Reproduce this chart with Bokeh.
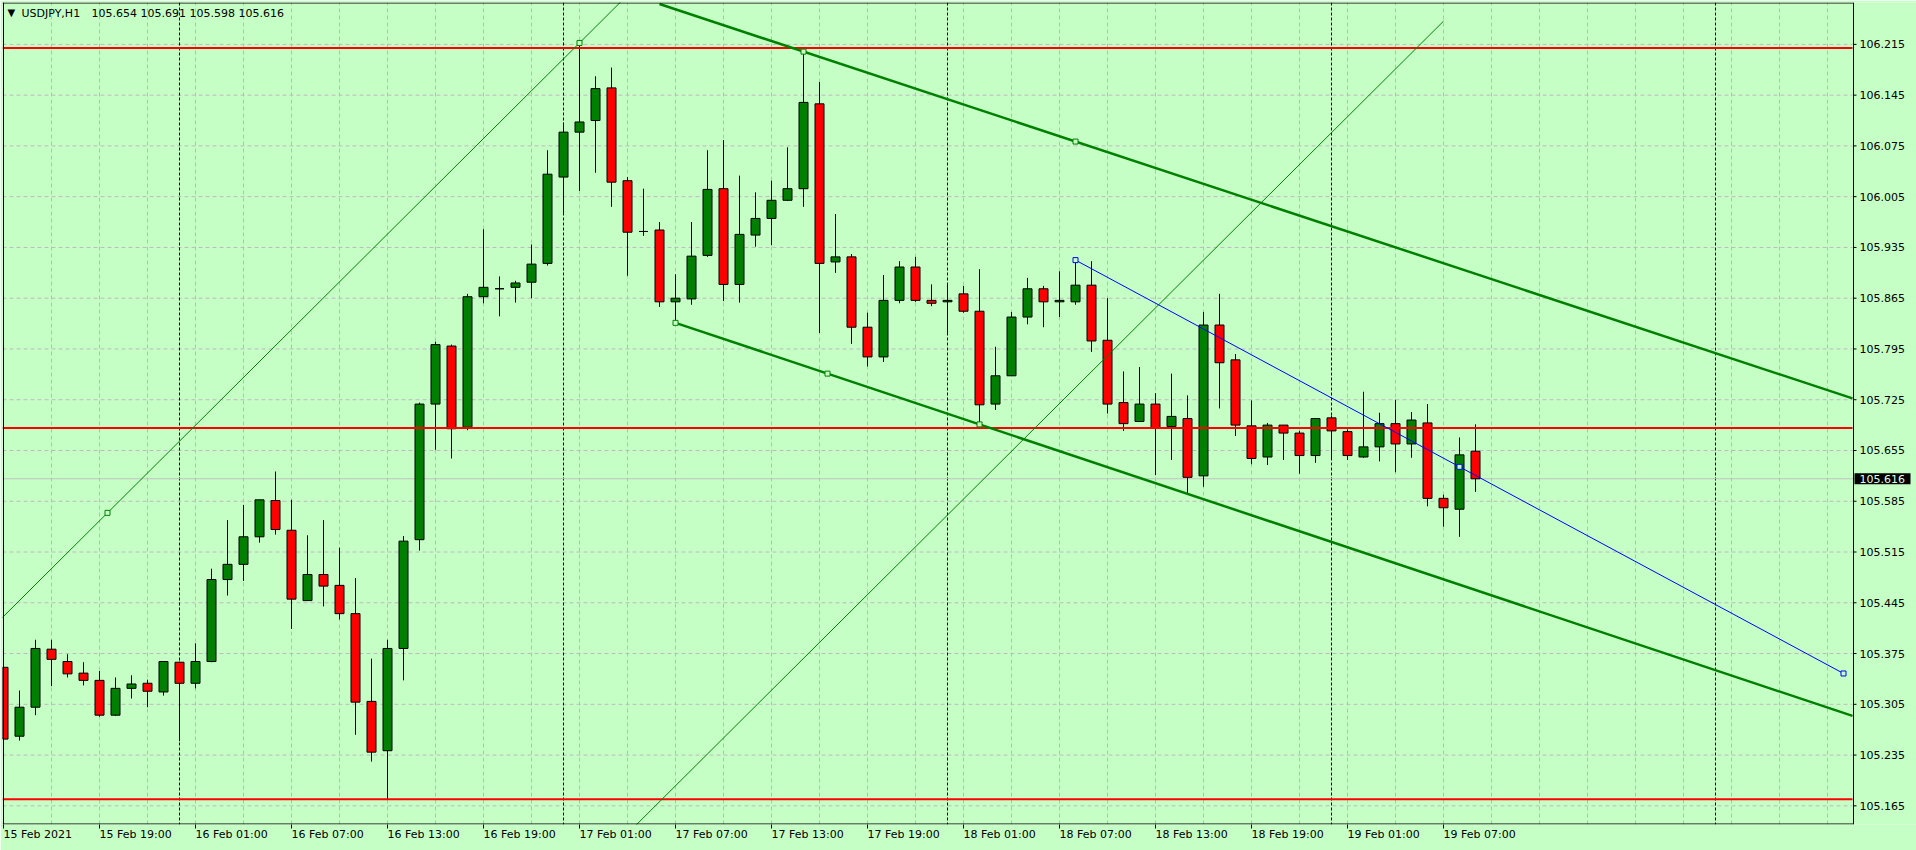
from bokeh.plotting import figure
from bokeh.models import Range1d, FixedTicker, Label, ColumnDataSource
from bokeh.core.properties import value
from bokeh.embed import file_html
from bokeh.resources import INLINE

# ---------------- data ----------------
symbol = "USDJPY,H1"
last_ohlc = "105.654 105.691 105.598 105.616"

# hourly bars, bar 0 = 15 Feb 2021 13:00
opens = [105.356, 105.261, 105.301, 105.381, 105.364, 105.348, 105.338, 105.290, 105.327, 105.334,
         105.322, 105.363, 105.334, 105.364, 105.477, 105.498, 105.536, 105.586, 105.545, 105.448,
         105.484, 105.469, 105.430, 105.309, 105.241, 105.382, 105.532, 105.719, 105.799, 105.687,
         105.867, 105.878, 105.880, 105.887, 105.913, 106.032, 106.094, 106.110, 106.155, 106.027,
         105.957, 105.959, 105.860, 105.864, 105.924, 106.016, 105.884, 105.952, 105.975, 106.000,
         106.016, 106.133, 105.915, 105.922, 105.825, 105.784, 105.862, 105.908, 105.862, 105.860,
         105.871, 105.847, 105.719, 105.758, 105.839, 105.878, 105.860, 105.860, 105.883, 105.807,
         105.721, 105.695, 105.719, 105.688, 105.699, 105.620, 105.828, 105.780, 105.689, 105.646,
         105.690, 105.679, 105.648, 105.700, 105.681, 105.646, 105.660, 105.692, 105.664, 105.693,
         105.589, 105.574, 105.654]
highs = [105.361, 105.324, 105.394, 105.394, 105.374, 105.363, 105.351, 105.342, 105.345, 105.339,
         105.364, 105.364, 105.389, 105.492, 105.559, 105.580, 105.587, 105.626, 105.587, 105.538,
         105.559, 105.521, 105.479, 105.368, 105.394, 105.537, 105.721, 105.805, 105.801, 105.871,
         105.960, 105.895, 105.889, 105.939, 106.069, 106.107, 106.217, 106.171, 106.183, 106.032,
         106.016, 105.970, 105.898, 105.970, 106.069, 106.083, 106.034, 106.011, 106.027, 106.073,
         106.207, 106.163, 105.981, 105.926, 105.845, 105.897, 105.916, 105.922, 105.884, 105.884,
         105.882, 105.905, 105.798, 105.846, 105.893, 105.882, 105.902, 105.917, 105.916, 105.865,
         105.764, 105.770, 105.734, 105.761, 105.731, 105.846, 105.871, 105.788, 105.724, 105.693,
         105.690, 105.682, 105.699, 105.703, 105.684, 105.736, 105.707, 105.725, 105.708, 105.719,
         105.594, 105.673, 105.691]
lows = [105.255, 105.255, 105.290, 105.330, 105.342, 105.331, 105.288, 105.289, 105.313, 105.301,
        105.317, 105.254, 105.327, 105.363, 105.455, 105.475, 105.528, 105.539, 105.409, 105.448,
        105.440, 105.422, 105.263, 105.226, 105.174, 105.338, 105.517, 105.656, 105.644, 105.683,
        105.858, 105.840, 105.859, 105.865, 105.910, 105.981, 106.013, 106.038, 105.991, 105.896,
        105.951, 105.853, 105.831, 105.856, 105.922, 105.861, 105.859, 105.936, 105.938, 105.999,
        105.991, 105.817, 105.900, 105.802, 105.771, 105.777, 105.858, 105.860, 105.854, 105.816,
        105.845, 105.693, 105.711, 105.758, 105.829, 105.825, 105.839, 105.856, 105.791, 105.706,
        105.682, 105.695, 105.621, 105.642, 105.594, 105.605, 105.713, 105.675, 105.636, 105.635,
        105.642, 105.623, 105.638, 105.642, 105.642, 105.645, 105.640, 105.625, 105.645, 105.578,
        105.550, 105.536, 105.598]
closes = [105.257, 105.301, 105.382, 105.367, 105.347, 105.338, 105.290, 105.327, 105.333, 105.323,
          105.364, 105.334, 105.364, 105.477, 105.498, 105.536, 105.587, 105.546, 105.450, 105.484,
          105.468, 105.430, 105.308, 105.239, 105.382, 105.530, 105.719, 105.801, 105.685, 105.867,
          105.880, 105.878, 105.886, 105.912, 106.036, 106.094, 106.108, 106.154, 106.025, 105.956,
          105.957, 105.860, 105.865, 105.923, 106.015, 105.884, 105.953, 105.975, 106.000, 106.016,
          106.135, 105.913, 105.922, 105.825, 105.784, 105.862, 105.908, 105.862, 105.858, 105.862,
          105.847, 105.718, 105.758, 105.839, 105.878, 105.860, 105.862, 105.883, 105.806, 105.719,
          105.692, 105.719, 105.686, 105.702, 105.618, 105.828, 105.776, 105.690, 105.644, 105.690,
          105.679, 105.648, 105.699, 105.682, 105.648, 105.660, 105.692, 105.664, 105.697, 105.589,
          105.576, 105.649, 105.616]

x_tick_bars = [0, 6, 12, 18, 24, 30, 36, 42, 48, 54, 60, 66, 72, 78, 84, 90]
x_tick_labels = ["15 Feb 2021", "15 Feb 19:00", "16 Feb 01:00", "16 Feb 07:00", "16 Feb 13:00",
                 "16 Feb 19:00", "17 Feb 01:00", "17 Feb 07:00", "17 Feb 13:00", "17 Feb 19:00",
                 "18 Feb 01:00", "18 Feb 07:00", "18 Feb 13:00", "18 Feb 19:00", "19 Feb 01:00",
                 "19 Feb 07:00"]
y_ticks = [105.165, 105.235, 105.305, 105.375, 105.445, 105.515, 105.585, 105.655,
           105.725, 105.795, 105.865, 105.935, 106.005, 106.075, 106.145, 106.215]
y_tick_labels = ["105.165", "105.235", "105.305", "105.375", "105.445", "105.515", "105.585",
                 "105.655", "105.725", "105.795", "105.865", "105.935", "106.005", "106.075",
                 "106.145", "106.215"]

red_levels = [106.210, 105.686, 105.174]
day_start_bars = [11, 35, 59, 83, 107]
bid_price = 105.616
bid_label = "105.616"

# drawn objects: anchor (bar, price)
chan_upper_t, chan_upper_p = [50, 67], [106.205, 106.081]
chan_lower_t, chan_lower_p = [42, 61], [105.831, 105.691]
thin_t, thin_p = [-23, 36], [104.921, 106.217]
thin_par_t, thin_par_p = 60, 105.588
blue_t, blue_p = [67, 115], [105.9175, 105.3475]

# ---------------- layout ----------------
BG = "#c6ffc6"
GRID = "#c0b8c0"
GREEN = "#008000"
FONT = "DejaVu Sans"
W, H = 1916, 850
FL, FT, FR, FB = 2, 2, 0, 24           # frame margins in px (frame also holds the price scale)
FW, FH = W - FL - FR, H - FT - FB
BAR_PX = 16.0
PPX = 0.0013756
X0 = (FL - 3) / BAR_PX                 # bar 0 centre sits at page x = 3
X1 = X0 + FW / BAR_PX
Y1 = 106.2755 - FT * PPX
Y0 = Y1 - FH * PPX

def bx(px):   # page x -> bar units
    return X0 + (px - FL) / BAR_PX
def py(pyy):  # page y -> price units
    return Y1 - (pyy - FT) * PPX
def dy(px):   # pixel height -> price
    return px * PPX

XE = bx(1852)                          # right edge of the chart area (price scale beyond)

p = figure(width=W, height=H, x_range=Range1d(X0, X1), y_range=Range1d(Y0, Y1),
           y_axis_location=None, output_backend="svg", toolbar_location=None,
           tools="", title=None, min_border_left=FL, min_border_top=FT,
           min_border_right=FR, min_border_bottom=FB)
p.background_fill_color = BG
p.border_fill_color = BG
p.outline_line_color = None
p.ygrid.visible = False

# x axis: labels start at their tick (tiny negative angle => left aligned)
xa = p.xaxis[0]
xa.ticker = FixedTicker(ticks=x_tick_bars)
xa.major_label_overrides = {b: s for b, s in zip(x_tick_bars, x_tick_labels)}
xa.major_label_orientation = -0.0001
xa.major_tick_out = 4
xa.major_tick_in = 0
xa.minor_tick_out = 0
xa.minor_tick_in = 0
xa.major_tick_line_color = "black"
xa.major_label_standoff = 6
xa.major_label_text_font = FONT
xa.major_label_text_font_size = "11px"
xa.major_label_text_color = "black"
xa.axis_line_color = None

# vertical grid (every 3 bars)
p.xgrid.ticker = FixedTicker(ticks=list(range(0, 115, 3)))
p.xgrid.grid_line_color = GRID
p.xgrid.grid_line_dash = "4 3"
p.xgrid.grid_line_width = 1

ny = len(y_ticks)
# horizontal grid (only across the chart area)
p.segment(x0=[X0] * ny, y0=y_ticks, x1=[XE] * ny, y1=y_ticks,
          line_color=GRID, line_dash="4 3", line_width=1)

# day separators, bid line
p.vspan(x=day_start_bars, line_color="black", line_dash="3 2", line_width=1)
p.segment(x0=[X0], y0=[bid_price], x1=[bx(1854)], y1=[bid_price], line_color="#c0c0c0", line_width=1)

# candles
n = len(opens)
src = ColumnDataSource(dict(
    x=list(range(n)), o=opens, h=highs, l=lows, c=closes,
    top=[max(a, b) for a, b in zip(opens, closes)],
    bot=[min(a, b) for a, b in zip(opens, closes)],
    col=[GREEN if c >= o else "#ff0000" for o, c in zip(opens, closes)]))
p.segment(x0="x", y0="l", x1="x", y1="h", source=src, line_color="black", line_width=1)
p.vbar(x="x", width=0.5625, top="top", bottom="bot", fill_color="col",
       line_color="black", line_width=1, source=src)

# horizontal levels
nr = len(red_levels)
p.segment(x0=[X0] * nr, y0=red_levels, x1=[XE] * nr, y1=red_levels, line_color="#ff0000", line_width=2)

def line_pts(t_pair, p_pair, t_from, t_to):
    s = (p_pair[1] - p_pair[0]) / (t_pair[1] - t_pair[0])
    return [t_from, t_to], [p_pair[0] + s * (t_from - t_pair[0]), p_pair[0] + s * (t_to - t_pair[0])]

# equidistant channel (thick)
ux, uy = line_pts(chan_upper_t, chan_upper_p, 41, XE)
lx, ly = line_pts(chan_lower_t, chan_lower_p, 42, XE)
p.line(ux, uy, line_color=GREEN, line_width=2.5)
p.line(lx, ly, line_color=GREEN, line_width=2.5)

# thin channel
tx, ty = line_pts(thin_t, thin_p, X0 - 1, 45)
p.line(tx, ty, line_color=GREEN, line_width=1)
slope_thin = (thin_p[1] - thin_p[0]) / (thin_t[1] - thin_t[0])
px_, py_ = line_pts([thin_par_t, thin_par_t + 1], [thin_par_p, thin_par_p + slope_thin], 30, 90)
p.line(px_, py_, line_color=GREEN, line_width=1)

# blue trend line
p.line(blue_t, blue_p, line_color="#0000ff", line_width=1)

# anchor squares
g_sq_x = chan_upper_t + chan_lower_t + [sum(chan_lower_t) / 2, thin_t[1], (thin_t[0] + thin_t[1]) / 2]
g_sq_y = chan_upper_p + chan_lower_p + [sum(chan_lower_p) / 2, thin_p[1], (thin_p[0] + thin_p[1]) / 2]
p.scatter(g_sq_x, g_sq_y, marker="square", size=5, fill_color=BG, line_color=GREEN, line_width=1)
b_sq_x = [blue_t[0], sum(blue_t) / 2, blue_t[1]]
b_sq_y = [blue_p[0], sum(blue_p) / 2, blue_p[1]]
p.scatter(b_sq_x, b_sq_y, marker="square", size=5, fill_color=BG, line_color="#0000ff", line_width=1)

# chart border (left, top, right, bottom)
p.vspan(x=[bx(2.5), bx(1852.5)], line_color="black", line_width=1)
p.segment(x0=[bx(2), bx(2)], y0=[py(2.5), py(825.5)], x1=[bx(1853), bx(1853)],
          y1=[py(2.5), py(825.5)], line_color="black", line_width=1)

# price scale: ticks and labels
p.segment(x0=[bx(1853)] * ny, y0=y_ticks, x1=[bx(1856)] * ny, y1=y_ticks,
          line_color="black", line_width=1)
p.text(x=[bx(1859)] * ny, y=y_ticks, text=y_tick_labels, text_font=value(FONT),
       text_font_size="11px", text_color="black", text_baseline="middle", text_align="left")

# bid price tag
p.quad(left=[bx(1854)], right=[bx(1910)], top=[bid_price + dy(5.5)], bottom=[bid_price - dy(5.5)],
       fill_color="black", line_color=None)
p.text(x=[bx(1859)], y=[bid_price], text=[bid_label], text_font=value(FONT),
       text_font_size="11px", text_color="#e0ffe0", text_baseline="middle", text_align="left")

# header texts
p.add_layout(Label(x=bx(7), y=py(12), text="\u25bc", text_font=FONT, text_font_size="10px",
                   text_color="black", text_baseline="middle"))
p.add_layout(Label(x=bx(21), y=py(13), text=symbol, text_font=FONT, text_font_size="11px",
                   text_color="black", text_baseline="middle"))
p.add_layout(Label(x=bx(91), y=py(13), text=last_ohlc, text_font=FONT, text_font_size="11px",
                   text_color="black", text_baseline="middle"))

open("out.html", "w").write(file_html(p, INLINE))
